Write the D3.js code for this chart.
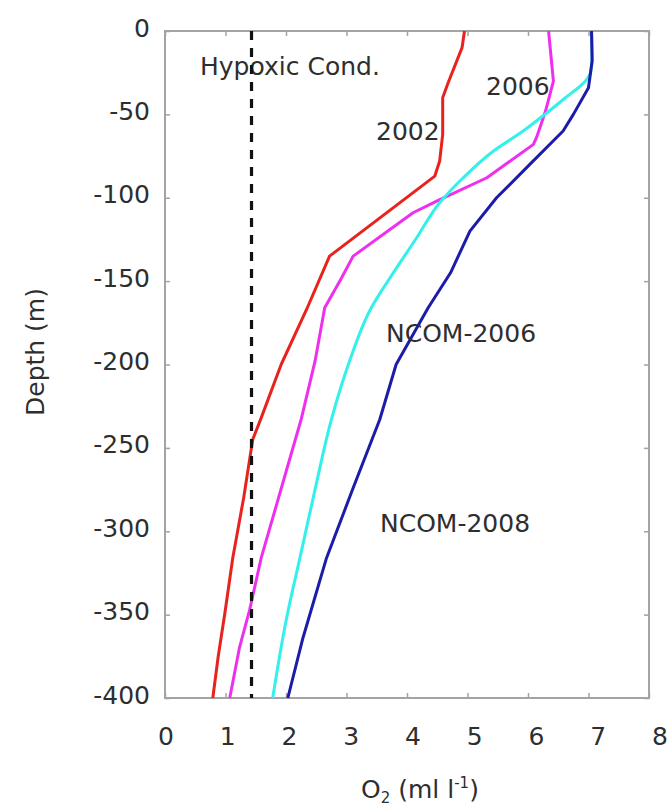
<!DOCTYPE html>
<html>
<head>
<meta charset="utf-8">
<script src="https://cdn.jsdelivr.net/npm/d3@7/dist/d3.min.js"></script>
<style>
  html, body { margin: 0; padding: 0; background: #fff; }
  svg { display: block; }
  text { font-family: "DejaVu Sans", Verdana, sans-serif; fill: #2e2e2e; }
</style>
</head>
<body>
<svg id="chart" width="669" height="809"></svg>
<script>
// ---- data ----
const xTicks = [0, 1, 2, 3, 4, 5, 6, 7, 8];
const yTicks = [0, -50, -100, -150, -200, -250, -300, -350, -400];

const depth2002 = [0, -10, -31, -40, -62, -78, -87, -135, -167, -200, -232, -245, -280, -316, -349, -375, -400];
const o2_2002   = [4.95, 4.91, 4.68, 4.59, 4.59, 4.54, 4.46, 2.72, 2.34, 1.92, 1.59, 1.45, 1.30, 1.12, 0.99, 0.88, 0.79];

const depth2006 = [0, -30, -48, -63, -68, -88, -102, -109, -135, -148, -166, -198, -233, -316, -347, -370, -400];
const o2_2006   = [6.34, 6.42, 6.29, 6.15, 6.09, 5.32, 4.49, 4.10, 3.11, 2.92, 2.64, 2.48, 2.25, 1.59, 1.40, 1.23, 1.07];

const depthNcom06 = [0, -15, -24, -30, -40, -50, -60, -72, -88, -103, -124, -148, -166, -198, -233, -275, -316, -352, -400];
const o2Ncom06    = [7.05, 7.06, 7.04, 6.95, 6.62, 6.28, 5.92, 5.43, 4.93, 4.54, 4.16, 3.72, 3.41, 3.05, 2.75, 2.48, 2.23, 2.01, 1.78];

const depthNcom08 = [0, -18, -34, -50, -60, -80, -100, -120, -145, -166, -200, -233, -275, -316, -364, -400];
const o2Ncom08    = [7.05, 7.06, 7.00, 6.75, 6.58, 6.03, 5.48, 5.04, 4.72, 4.35, 3.82, 3.55, 3.10, 2.67, 2.28, 2.03];

const hypoxicO2 = 1.43;
const hypoxicDepth = [0, -400];

const seriesNames  = ["2002", "2006", "NCOM-2006", "NCOM-2008"];
const seriesColors = ["#e8231e", "#ee30ee", "#33f0ea", "#1c1ca8"];

// ---- layout ----
const L = 165, R = 649, T = 31, B = 698;
const svg = d3.select("#chart");

const x = d3.scaleLinear().domain([0, 8]).range([L, R]);
const y = d3.scaleLinear().domain([0, -400]).range([T, B]);
// tick labels in the reference are spread slightly wider than the ticks
const xLab = d3.scaleLinear().domain([0, 8]).range([166, 660]);

const frameColor = "#a3a3a3";

// axes ticks (inward, on all four sides)
const gL = svg.append("g").attr("transform", `translate(${L},0)`)
  .call(d3.axisLeft(y).tickValues(yTicks).tickSizeInner(-5).tickSizeOuter(0).tickPadding(15)
        .tickFormat(d => String(d)));
gL.select(".domain").remove();
gL.selectAll("line").attr("stroke", frameColor).attr("stroke-width", 1.5);
gL.selectAll("text").attr("font-size", 25).attr("dy", "0.2em")
  .attr("font-family", "DejaVu Sans, sans-serif").attr("fill", "#2e2e2e");

const gR = svg.append("g").attr("transform", `translate(${R},0)`)
  .call(d3.axisRight(y).tickValues(yTicks).tickSizeInner(-5).tickSizeOuter(0).tickFormat(""));
gR.select(".domain").remove();
gR.selectAll("line").attr("stroke", frameColor).attr("stroke-width", 1.5);

const gB = svg.append("g").attr("transform", `translate(0,${B})`)
  .call(d3.axisBottom(x).tickValues(xTicks).tickSizeInner(-5).tickSizeOuter(0).tickFormat(""));
gB.select(".domain").remove();
gB.selectAll("line").attr("stroke", frameColor).attr("stroke-width", 1.5);

const gT = svg.append("g").attr("transform", `translate(0,${T})`)
  .call(d3.axisTop(x).tickValues(xTicks).tickSizeInner(-5).tickSizeOuter(0).tickFormat(""));
gT.select(".domain").remove();
gT.selectAll("line").attr("stroke", frameColor).attr("stroke-width", 1.5);

// frame
svg.append("rect").attr("x", L).attr("y", T).attr("width", R - L).attr("height", B - T)
  .attr("fill", "none").attr("stroke", frameColor).attr("stroke-width", 2);

// x tick labels
svg.append("g").selectAll("text").data(xTicks).join("text")
  .attr("x", d => xLab(d)).attr("y", 745)
  .attr("text-anchor", "middle").attr("font-size", 25)
  .text(d => d);

// axis titles
const xt = svg.append("text").attr("x", 420).attr("y", 798)
  .attr("text-anchor", "middle").attr("font-size", 25);
xt.append("tspan").text("O");
xt.append("tspan").attr("font-size", 15).attr("dy", 5).text("2");
xt.append("tspan").attr("dy", -5).text(" (ml l");
xt.append("tspan").attr("font-size", 15).attr("dy", -10).text("-1");
xt.append("tspan").attr("dy", 10).text(")");

svg.append("text").attr("transform", "translate(44,352) rotate(-90)")
  .attr("text-anchor", "middle").attr("font-size", 25).text("Depth (m)");

// profile lines
const series = [
  { depth: depth2002,   o2: o2_2002,  curve: d3.curveLinear },
  { depth: depth2006,   o2: o2_2006,  curve: d3.curveLinear },
  { depth: depthNcom06, o2: o2Ncom06, curve: d3.curveMonotoneY },
  { depth: depthNcom08, o2: o2Ncom08, curve: d3.curveLinear }
];
series.forEach((s, i) => {
  const pts = s.o2.map((v, j) => [v, s.depth[j]]);
  const line = d3.line().x(d => x(d[0])).y(d => y(d[1])).curve(s.curve);
  svg.append("path").datum(pts)
    .attr("d", line)
    .attr("fill", "none")
    .attr("stroke", seriesColors[i])
    .attr("stroke-width", 3)
    .attr("stroke-linejoin", "round");
});

// labels in plot
const labels = [
  { text: "Hypoxic Cond.", x: 200, y: 75 },
  { text: seriesNames[1], x: 486, y: 95 },
  { text: seriesNames[0], x: 376, y: 140 },
  { text: seriesNames[2], x: 386, y: 342 },
  { text: seriesNames[3], x: 380, y: 532 }
];
svg.append("g").selectAll("text").data(labels).join("text")
  .attr("x", d => d.x).attr("y", d => d.y).attr("font-size", 25)
  .text(d => d.text);

// hypoxic threshold (dashed)
const hLine = d3.line().x(d => x(d[0])).y(d => y(d[1]));
svg.append("path")
  .datum(hypoxicDepth.map(d => [hypoxicO2, d]))
  .attr("d", hLine)
  .attr("fill", "none")
  .attr("stroke", "#111")
  .attr("stroke-width", 3.2)
  .attr("stroke-dasharray", "9,8");
</script>
</body>
</html>
